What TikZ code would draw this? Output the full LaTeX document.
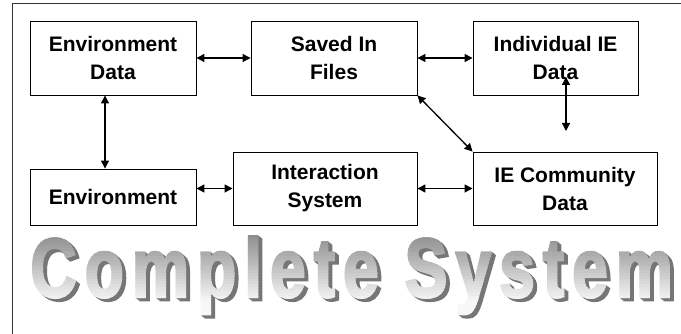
\documentclass[tikz,border=0pt]{standalone}
\usepackage{fontspec}
\setmainfont{Liberation Sans}
\newfontfamily\titlefont[BoldFeatures={FakeBold=2.5},LetterSpace=12]{Liberation Sans}
\usetikzlibrary{arrows.meta}
\definecolor{titletop}{RGB}{128,128,128}
\definecolor{titleside}{RGB}{118,118,118}
\newcommand{\titletext}{\resizebox{643pt}{\height}{Complete System}}
\begin{document}
\begin{tikzpicture}[x=1pt,y=-1pt,
  box/.style={draw,line width=0.9pt,inner sep=0pt,align=center,
    font=\fontsize{21}{28}\selectfont\bfseries},
  link/.style={line width=1.3pt,
    {Triangle[length=8pt,width=8pt]}-{Triangle[length=8pt,width=8pt]}},
  bigtext/.style={anchor=base west,inner sep=0pt,
    font=\fontsize{84}{84}\selectfont\titlefont\bfseries}]
\useasboundingbox (0,0) rectangle (681,334);
\fill[white] (0,0) rectangle (681,334);

% outer frame (open to the right and bottom)
\draw[line width=1pt,black!80] (12,340) -- (12,3.5) -- (690,3.5);

% boxes
\node[box,minimum width=166pt,minimum height=74pt] (envdata) at (113,58) {Environment\\Data};
\node[box,minimum width=166pt,minimum height=74pt] (saved)   at (334,58) {Saved In\\Files};
\node[box,minimum width=165pt,minimum height=74pt] (indiv)   at (555.5,58) {Individual IE\\Data};
\node[box,minimum width=166pt,minimum height=56pt] (env)     at (113,197) {Environment};
\node[box,minimum width=184pt,minimum height=73pt] (inter)   at (325,188.5) {Interaction\\System};
\node[box,minimum width=184pt,minimum height=73pt] (comm)    at (565,188.5) {IE Community\\Data};

% connectors
\draw[link] (envdata.east) -- (saved.west);
\draw[link] (saved.east) -- (indiv.west);
\draw[link] ([xshift=-8pt]envdata.south) -- ([xshift=-8pt]env.north);
\draw[link] (inter.west -| env.east) -- (inter.west);
\draw[link] (inter.east) -- (comm.west);
\draw[link] (saved.south east) -- (comm.north west);
\coordinate (indivlow) at (566,77);
\coordinate (commhigh) at (566,131);
\draw[link] (indivlow) -- (commhigh);

% title: extruded side
\foreach \k in {4,3,2,1} {
  \node[bigtext,text=titleside] (side\k) at (30+\k,297+\k*0.8) {\titletext};
}
% title: face with a vertical grey-to-white blend
\foreach \i in {0,...,31} {
  \pgfmathsetmacro\ya{226+\i*2.8}
  \pgfmathsetmacro\yb{\ya+3}
  \pgfmathtruncatemacro\pct{max(6,100-\i*3.5)}
  \begin{scope}
    \clip (0,\ya) rectangle (681,\yb);
    \node[bigtext,text=titletop!\pct!white] (face\i) at (30,297) {\titletext};
  \end{scope}
}
\end{tikzpicture}
\end{document}
